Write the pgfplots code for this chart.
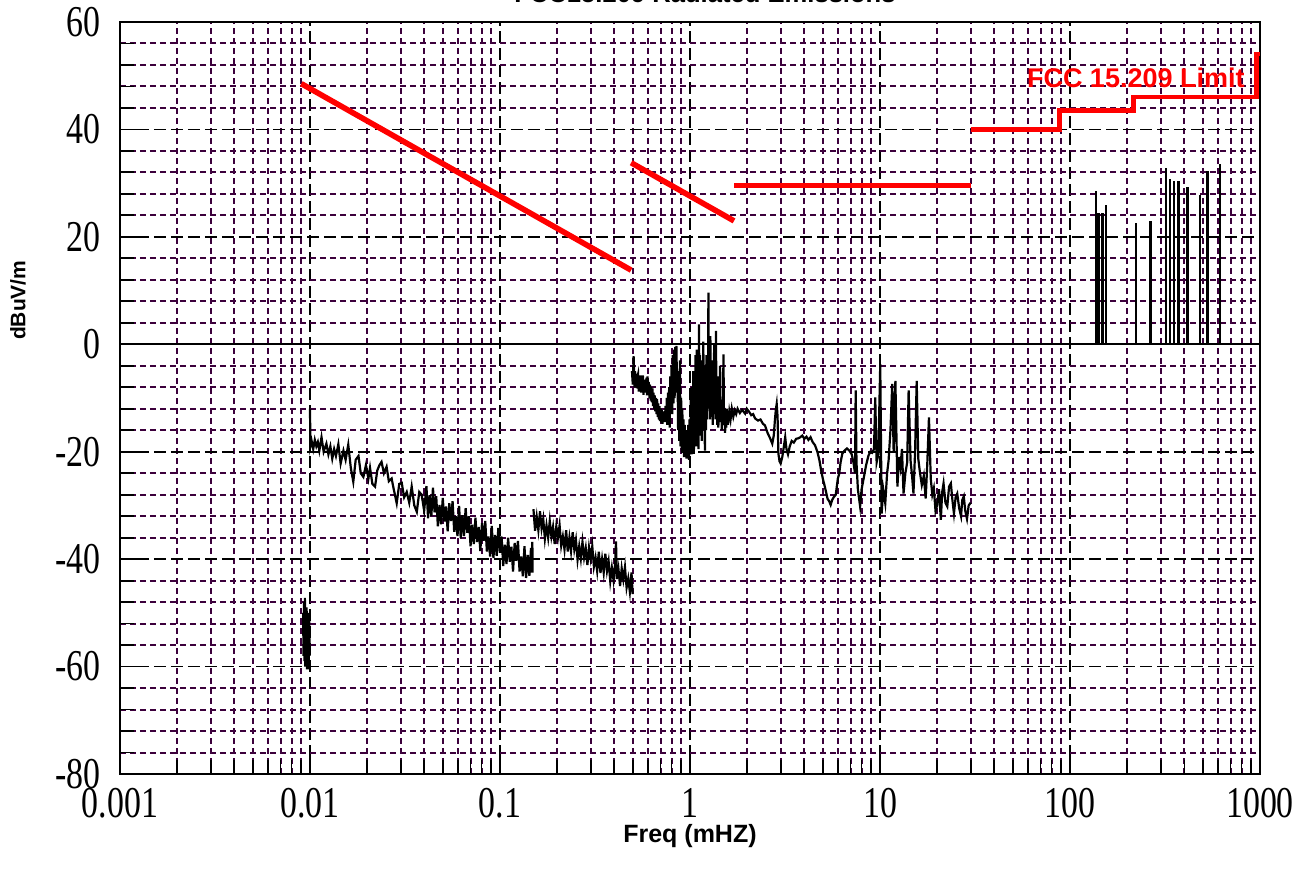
\documentclass[border=0pt]{standalone}
\usepackage{fontspec}
\setmainfont{Liberation Serif}
\newfontfamily\tickfont{Liberation Serif}[FakeStretch=0.77]
\newfontfamily\arial{Liberation Sans}
\usepackage{pgfplots}
\pgfplotsset{compat=1.18}
\usetikzlibrary{calc}
\definecolor{gridpurple}{RGB}{60,0,60}
\begin{document}
\begin{tikzpicture}
\begin{axis}[
  scale only axis,
  width=570pt, height=376pt,
  xmode=log, xmin=0.001, xmax=1000,
  ymin=-80, ymax=60,
  xtick={0.001,0.01,0.1,1,10,100,1000},
  xticklabels={0.001,0.01,0.1,1,10,100,1000},
  minor xtick={0.002,0.003,0.004,0.005,0.006,0.007,0.008,0.009,
    0.02,0.03,0.04,0.05,0.06,0.07,0.08,0.09,
    0.2,0.3,0.4,0.5,0.6,0.7,0.8,0.9,
    2,3,4,5,6,7,8,9,
    20,30,40,50,60,70,80,90,
    200,300,400,500,600,700,800,900},
  ytick={-80,-60,-40,-20,0,20,40,60},
  yticklabels={-80,-60,-40,-20,0,20,40,60},
  minor ytick={-76,-72,-68,-64,-56,-52,-48,-44,-36,-32,-28,-24,-16,-12,-8,-4,4,8,12,16,24,28,32,36,44,48,52,56},
  xmajorgrids, ymajorgrids, xminorgrids, yminorgrids,
  major grid style={black, line width=0.9pt, dash pattern=on 6pt off 2.5pt},
  minor grid style={gridpurple, line width=1pt, dash pattern=on 3pt off 2pt},
  tick style={black, line width=0.9pt},
  major tick length=10pt, minor tick length=7pt,
  tick align=inside,
  xtick pos=bottom, ytick pos=left,
  axis line style={line width=1.2pt},
  tick label style={font=\tickfont\fontsize{22}{22}\selectfont},
  /pgf/number format/assume math mode=true,
  yticklabel style={xshift=-6.2pt},
  xticklabel style={yshift=-3.5pt, text depth=0pt},
  xlabel={Freq (mHZ)}, ylabel={dBuV/m},
  xlabel style={font=\arial\bfseries\fontsize{12.5}{15}\selectfont, at={(axis description cs:0.5,-0.0825)}, anchor=center},
  ylabel style={font=\arial\bfseries\fontsize{10.5}{13}\selectfont, at={(axis description cs:-0.0895,0.63)}, anchor=center},
]
\coordinate (SW) at (rel axis cs:0,0);
\coordinate (NE) at (rel axis cs:1,1);
\coordinate (NC) at (rel axis cs:0.5,1);
\addplot[black, line width=0.9pt] coordinates {(0.001,0)(1000,0)};
% segment A
\addplot[black, line width=1.1pt] coordinates {
(0.0092,-50)(0.00925,-58)(0.0093,-48)(0.00935,-59)(0.0094,-47.2)(0.00945,-60)(0.0095,-50)(0.00955,-59.5)
(0.0096,-49)(0.00965,-60.5)(0.0097,-51)(0.00975,-59)(0.0098,-50)(0.00985,-60.5)(0.0099,-50.5)(0.00995,-58)};
% segment B
\addplot[black, line width=1.1pt] coordinates {
(0.0100,-12.0)(0.01005,-19.0)(0.0102,-18.0)(0.0104,-19.5)(0.0106,-17.8)(0.0108,-19.0)(0.0110,-18.2)(0.0112,-19.8)
(0.0115,-17.3)(0.0118,-20.0)(0.0122,-18.5)(0.0125,-20.5)(0.0128,-19.0)(0.0131,-21.3)(0.0134,-19.5)(0.0137,-20.8)
(0.0141,-18.6)(0.0145,-22.2)(0.0150,-19.8)(0.0154,-21.5)(0.0159,-18.7)(0.0164,-23.0)(0.0169,-25.6)(0.0174,-21.5)
(0.0180,-20.8)(0.0185,-24.0)(0.0191,-24.7)(0.0197,-22.5)(0.0203,-25.0)(0.0207,-23.0)(0.0213,-26.0)(0.0220,-26.5)
(0.0226,-23.5)(0.0232,-22.5)(0.0238,-21.9)(0.0245,-24.0)(0.0253,-22.8)(0.0260,-25.5)(0.0269,-25.0)(0.0276,-27.0)
(0.0286,-29.6)(0.0295,-26.0)(0.0304,-25.8)(0.0313,-28.5)(0.0323,-27.5)(0.0333,-29.5)(0.0343,-26.5)(0.0354,-30.0)
(0.0365,-31.2)(0.0376,-27.5)(0.0387,-28.0)(0.0399,-31.0)
(0.04100,-26.4)(0.04182,-32.4)(0.04266,-28.1)(0.04351,-32.0)(0.04438,-26.7)(0.04527,-31.3)(0.04617,-28.3)(0.04710,-33.9)
(0.04804,-29.9)(0.04900,-33.5)(0.04998,-28.6)(0.05098,-33.0)(0.05200,-30.2)(0.05304,-34.8)(0.05410,-29.6)(0.05518,-32.9)
(0.05629,-29.2)(0.05741,-34.9)(0.05856,-32.0)(0.05973,-35.7)(0.06092,-30.1)(0.06214,-36.1)(0.06339,-31.8)(0.06465,-35.7)
(0.06595,-30.5)(0.06727,-35.1)(0.06861,-32.0)(0.06998,-37.6)(0.07138,-33.6)(0.07281,-37.2)(0.07427,-32.3)(0.07575,-36.8)
(0.07727,-34.0)(0.07881,-38.5)(0.08039,-33.3)(0.08200,-36.6)(0.08364,-32.9)(0.08531,-38.6)(0.08702,-35.8)(0.08876,-39.5)
(0.09053,-33.8)(0.09234,-39.8)(0.09419,-35.5)(0.09607,-39.4)(0.09800,-34.2)(0.09996,-38.8)(0.10195,-35.8)(0.10399,-41.3)
(0.10607,-37.3)(0.10819,-40.9)(0.11036,-36.0)(0.11257,-40.5)(0.11482,-37.7)(0.11712,-42.3)(0.11946,-37.0)(0.12185,-40.3)
(0.12428,-36.6)(0.12677,-42.3)(0.12931,-39.5)(0.13189,-43.2)(0.13453,-37.6)(0.13722,-43.5)(0.13997,-39.2)(0.14277,-43.1)
(0.14562,-37.9)(0.14700,-42.5)(0.14800,-36.8)(0.14853,-42.5)};
% segment C
\addplot[black, line width=1.1pt] coordinates {
(0.1500,-30.7)(0.1530,-34.7)(0.1561,-32.1)(0.1592,-34.6)(0.1624,-31.1)(0.1656,-34.3)(0.1689,-32.5)(0.1723,-36.2)
(0.1757,-33.7)(0.1793,-36.0)(0.1828,-32.9)(0.1865,-35.8)(0.1902,-34.0)(0.1940,-37.2)(0.1979,-33.9)(0.2019,-36.0)
(0.2059,-33.7)(0.2100,-37.5)(0.2142,-35.8)(0.2185,-38.2)(0.2229,-34.6)(0.2273,-38.6)(0.2319,-36.0)(0.2365,-38.5)
(0.2413,-35.0)(0.2461,-38.2)(0.2510,-36.4)(0.2560,-40.1)(0.2612,-37.6)(0.2664,-39.9)(0.2717,-36.8)(0.2771,-39.7)
(0.2827,-37.9)(0.2884,-41.1)(0.2941,-37.8)(0.3000,-39.9)(0.3060,-37.6)(0.3121,-41.4)(0.3184,-39.7)(0.3247,-42.2)
(0.3312,-38.6)(0.3379,-42.6)(0.3446,-40.0)(0.3515,-42.5)(0.3585,-39.0)(0.3657,-42.2)(0.3730,-40.4)(0.3805,-44.1)
(0.3881,-41.6)(0.3959,-43.9)(0.4038,-40.8)(0.4080,-36.7)(0.4119,-43.7)(0.4201,-41.8)(0.4285,-45.0)(0.4371,-41.7)
(0.4458,-43.8)(0.4547,-41.5)(0.4638,-45.3)(0.4731,-43.6)(0.4826,-46.1)(0.4922,-42.5)(0.4990,-46.5)};
% segment D
\addplot[black, line width=1.1pt] coordinates {
(0.495,-5.0)(0.500,-7.5)(0.505,-2.2)(0.510,-8.0)(0.514,-5.0)(0.518,-7.5)(0.522,-5.5)(0.526,-8.2)(0.530,-6.0)(0.533,-5.6)(0.537,-8.8)(0.541,-6.5)
(0.545,-8.0)(0.549,-5.8)(0.553,-9.0)(0.557,-6.5)(0.561,-8.2)(0.565,-5.8)(0.569,-9.4)(0.573,-6.6)(0.577,-9.0)(0.581,-6.8)(0.585,-8.5)(0.590,-6.2)
(0.594,-9.5)(0.598,-6.0)(0.603,-9.2)(0.607,-7.0)(0.612,-10.0)(0.616,-7.5)(0.621,-10.5)(0.625,-8.0)(0.630,-10.8)(0.634,-8.2)(0.639,-11.5)(0.643,-9.0)
(0.648,-12.0)(0.652,-9.5)(0.657,-12.5)(0.662,-10.0)(0.667,-13.0)(0.671,-10.2)(0.676,-13.5)(0.681,-11.0)(0.686,-14.0)(0.691,-11.5)(0.696,-14.3)(0.701,-12.0)
(0.706,-14.6)(0.711,-12.2)(0.716,-14.8)(0.722,-12.5)(0.727,-14.5)(0.733,-12.5)(0.738,-14.0)(0.744,-11.5)(0.750,-14.5)(0.755,-10.0)(0.760,-15.0)(0.766,-9.0)
(0.771,-14.0)(0.777,-8.0)(0.782,-15.5)(0.788,-6.0)(0.794,-12.5)(0.800,-4.0)(0.806,-13.0)(0.812,-2.0)(0.818,-11.0)(0.824,-1.0)(0.830,-10.0)(0.836,-0.5)
(0.842,-9.0)(0.848,-0.3)(0.854,-7.0)(0.860,-5.0)(0.866,-16.0)(0.872,-8.0)(0.878,-18.0)(0.885,-3.0)(0.891,-19.0)(0.898,-10.0)(0.904,-20.0)(0.911,-12.0)
(0.918,-19.5)(0.925,-14.0)(0.931,-21.0)(0.938,-15.0)(0.945,-20.0)(0.952,-16.0)(0.959,-21.3)(0.966,-16.5)(0.973,-20.5)(0.980,-15.0)(0.988,-21.5)(0.995,-14.0)
(1.003,-20.0)(1.010,-10.0)(1.018,-20.5)(1.025,-8.0)(1.032,-19.0)(1.040,-5.0)(1.048,-20.4)(1.055,-6.0)(1.062,-18.0)(1.070,-2.0)(1.078,-19.0)(1.085,-1.0)
(1.093,-18.0)(1.100,-12.0)(1.108,-19.5)(1.115,3.7)(1.123,-15.0)(1.130,-2.0)(1.138,-17.0)(1.145,-3.0)(1.152,-18.0)(1.160,-5.0)(1.168,-16.0)(1.175,0.5)
(1.183,-14.0)(1.190,-8.0)(1.198,-19.8)(1.205,-4.0)(1.213,-16.0)(1.220,-2.0)(1.228,-14.0)(1.235,-5.0)(1.243,-12.0)(1.250,9.6)(1.258,-10.0)(1.265,-2.0)
(1.273,-14.0)(1.280,1.5)(1.288,-12.0)(1.295,-4.0)(1.303,-13.5)(1.310,-3.0)(1.318,-15.0)(1.325,-6.0)(1.333,-13.0)(1.340,0.0)(1.348,-12.0)(1.355,-5.0)
(1.363,-14.0)(1.370,2.5)(1.378,-13.0)(1.385,-8.0)(1.393,-15.0)(1.400,-6.0)(1.410,-15.5)(1.420,-10.0)(1.430,-14.0)(1.440,-4.0)(1.450,-14.5)(1.460,-11.0)
(1.470,-16.0)(1.480,-12.0)(1.490,-15.0)(1.500,-1.9)(1.510,-14.0)(1.520,-12.0)(1.530,-16.5)(1.540,-13.0)(1.550,-15.5)(1.560,-12.0)(1.585,-15.0)(1.610,-12.5)
(1.635,-14.0)(1.660,-12.0)(1.690,-13.5)(1.720,-12.3)(1.750,-13.0)(1.780,-12.0)(1.830,-12.8)(1.880,-12.2)(1.950,-12.9)
(1.990,-12.0)(2.050,-12.6)(2.100,-13.2)(2.150,-13.0)(2.200,-13.8)(2.280,-14.2)(2.350,-14.0)(2.420,-14.8)
(2.480,-15.1)(2.560,-16.5)(2.640,-17.5)(2.710,-18.5)(2.760,-17.0)(2.800,-14.0)(2.830,-12.2)(2.860,-11.1)
(2.890,-13.5)(2.920,-20.4)(2.960,-21.8)(3.000,-22.2)(3.060,-21.0)(3.120,-19.0)(3.170,-17.3)(3.220,-19.5)
(3.280,-20.5)(3.350,-19.0)(3.430,-18.0)(3.520,-18.3)(3.620,-17.6)(3.720,-17.5)(3.810,-17.3)(3.900,-17.0)
(4.000,-17.6)(4.100,-17.2)(4.200,-17.8)(4.310,-17.3)(4.420,-18.2)(4.550,-18.8)(4.680,-20.0)(4.800,-21.6)
(4.900,-23.5)(5.000,-25.0)(5.100,-26.2)(5.200,-27.5)(5.300,-28.8)(5.400,-29.2)(5.500,-29.9)(5.600,-29.0)
(5.700,-28.5)(5.850,-28.0)(6.000,-25.0)(6.100,-24.1)(6.200,-22.0)(6.330,-20.4)(6.500,-19.8)(6.700,-19.4)
(6.900,-19.8)(7.100,-20.5)(7.250,-22.0)(7.390,-24.0)(7.450,-8.6)(7.520,-22.0)(7.650,-27.0)(7.860,-30.2)
(8.000,-27.0)(8.200,-25.0)(8.450,-22.5)(8.700,-20.7)(8.900,-20.0)(9.100,-20.2)(9.300,-19.5)(9.440,-9.9)
(9.600,-22.0)(9.800,-20.5)(10.03,-3.7)(10.20,-31.5)(10.40,-27.0)(10.66,-29.6)(10.90,-24.0)(11.10,-21.6)
(11.35,-16.0)(11.60,-7.4)(11.80,-20.0)(12.05,-6.8)(12.35,-26.5)(12.60,-21.0)(12.81,-22.8)(13.05,-19.5)
(13.30,-27.8)(13.60,-24.0)(13.90,-22.0)(14.15,-8.6)(14.48,-21.6)(14.75,-24.5)(15.00,-27.8)(15.30,-20.0)
(15.60,-6.8)(15.90,-21.3)(16.25,-24.0)(16.60,-26.2)(17.00,-24.5)(17.40,-28.7)(17.75,-22.0)(18.10,-13.6)
(18.50,-25.0)(18.85,-28.0)(19.20,-26.8)(19.60,-31.0)(20.00,-29.9)(20.45,-27.0)(20.90,-32.7)(21.25,-27.5)
(21.60,-25.9)(22.10,-29.5)(22.60,-30.2)(23.10,-26.5)(23.60,-25.9)(24.05,-29.0)(24.50,-31.5)(25.00,-28.5)
(25.50,-27.8)(26.10,-30.5)(26.70,-32.0)(27.10,-29.0)(27.60,-28.3)(28.10,-31.0)(28.70,-32.5)(29.30,-30.0)
(30.00,-29.5)};
% spikes above 100 MHz
\addplot[ycomb, black, line width=1.3pt] coordinates {
(137,28.5)(141,24.4)(148,24.4)(155,25.9)(222,22.5)(265,23.0)(320,32.9)
(336,30.7)(353,30.4)(372,30.4)(416,29.2)(483,27.8)(531,32.2)(615,33.6)};
% FCC 15.209 limit
\addplot[red, line width=2.8pt] coordinates {(0.009,48.52)(0.49,13.80)};
\addplot[red, line width=2.8pt] coordinates {(0.49,33.80)(1.705,22.97)};
\addplot[red, line width=2.4pt] coordinates {(1.705,29.54)(30,29.54)};
\addplot[red, line width=2.2pt] coordinates {(30,40)(88,40)(88,43.5)(216,43.5)(216,46)(960,46)(960,54)(1000,54)};
\node[font=\arial\bfseries\fontsize{13.5}{16}\selectfont, text=red] at (axis cs:222,49.6) {FCC 15.209 Limit};
\end{axis}
\node[font=\arial\bfseries\fontsize{12.8}{15}\selectfont, anchor=base] at ($(NC)+(7.5pt,9.5pt)$) {FCC15.209 Radiated Emissions};
\pgfresetboundingbox
\useasboundingbox ($(SW)+(-60pt,-50.5pt)$) rectangle ($(NE)+(25pt,11pt)$);
\end{tikzpicture}
\end{document}
